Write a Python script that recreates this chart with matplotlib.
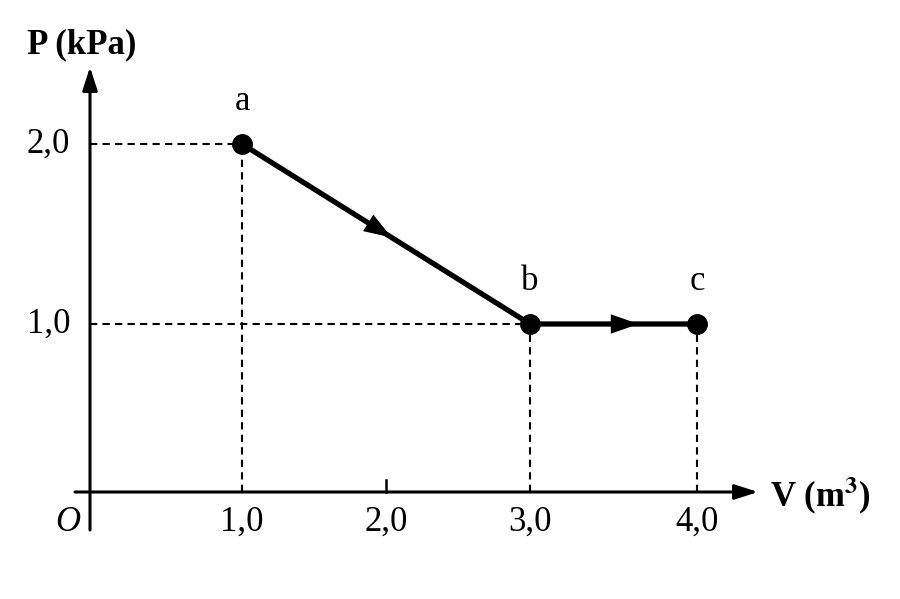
import numpy as np
import matplotlib
matplotlib.use("Agg")
import matplotlib.pyplot as plt

V = [1.0, 3.0, 4.0]
P = [2.0, 1.0, 1.0]
names = ["a", "b", "c"]
xticks = [1.0, 2.0, 3.0, 4.0]
xticklabels = ["1,0", "2,0", "3,0", "4,0"]
yticks = [1.0, 2.0]
yticklabels = ["1,0", "2,0"]

xs_d = [-10, 0, 1, 2, 3, 4, 14]; xs_p = [-1520, 0, 152, 296, 440, 607, 2277]
ys_d = [-10, 0, 1, 2, 12]; ys_p = [-1680, 0, 168, 348, 2148]
fx = lambda v: np.interp(v, xs_d, xs_p); ix = lambda p: np.interp(p, xs_p, xs_d)
fy = lambda v: np.interp(v, ys_d, ys_p); iy = lambda p: np.interp(p, ys_p, ys_d)

plt.rcParams['font.family'] = ['Liberation Serif', 'DejaVu Serif']
plt.rcParams['mathtext.fontset'] = 'stix'
fig = plt.figure(figsize=(9, 5.99), dpi=100)
ax = fig.add_axes([0, 0, 1, 1])
ax.set_xscale('function', functions=(fx, ix))
ax.set_yscale('function', functions=(fy, iy))
ax.set_xlim(ix(-90), ix(810)); ax.set_ylim(iy(-107), iy(492))
ax.axis('off')

ax.annotate('', xy=(ix(668), 0), xytext=(ix(-15), 0),
            arrowprops=dict(arrowstyle='-|>,head_length=1.4,head_width=0.45', lw=2.2, color='black', shrinkA=0, shrinkB=0))
ax.annotate('', xy=(0, iy(425)), xytext=(0, iy(-38)),
            arrowprops=dict(arrowstyle='-|>,head_length=1.4,head_width=0.45', lw=2.2, color='black', shrinkA=0, shrinkB=0))

ds = (3.5, 2.5)
ax.plot([0, V[0]], [P[0], P[0]], 'k--', lw=1.5, dashes=ds)
ax.plot([0, V[2]], [P[1], P[2]], 'k--', lw=1.5, dashes=ds)
for v, p in zip(V, P):
    ax.plot([v, v], [0, p], 'k--', lw=1.5, dashes=ds)
ax.plot([2.0, 2.0], [0, iy(12)], 'k-', lw=1.8)

ax.plot(V, P, 'k-', lw=3.8, solid_capstyle='round')
ax.plot(V, P, 'ko', ms=14)
for i in range(2):
    t = 0.52 if i == 0 else 0.65
    xm = V[i] + (V[i+1]-V[i])*t; ym = P[i] + (P[i+1]-P[i])*t
    xp = V[i] + (V[i+1]-V[i])*(t-0.05); yp = P[i] + (P[i+1]-P[i])*(t-0.05)
    ax.annotate('', xy=(xm, ym), xytext=(xp, yp),
                arrowprops=dict(arrowstyle='-|>,head_length=2.0,head_width=0.7', lw=0, color='black', shrinkA=0, shrinkB=0))
for v, p, n in zip(V, P, names):
    ax.text(v, iy(fy(p) + 26), n, ha='center', va='bottom', fontsize=25)

for v, l in zip(xticks, xticklabels):
    ax.text(v, iy(-14), l, ha='center', va='top', fontsize=25)
for p, l in zip(yticks, yticklabels):
    ax.text(ix(-20), p, l, ha='right', va='center', fontsize=25)
ax.text(ix(-22), iy(-14), 'O', ha='center', va='top', fontsize=25, style='italic')
ax.text(ix(-63), iy(447), 'P (kPa)', ha='left', va='center', fontsize=25, weight='bold')
ax.text(ix(680), iy(-3), 'V (m$^\\mathbf{3}$)', ha='left', va='center', fontsize=25, weight='bold')
fig.savefig('out.png', dpi=100)
